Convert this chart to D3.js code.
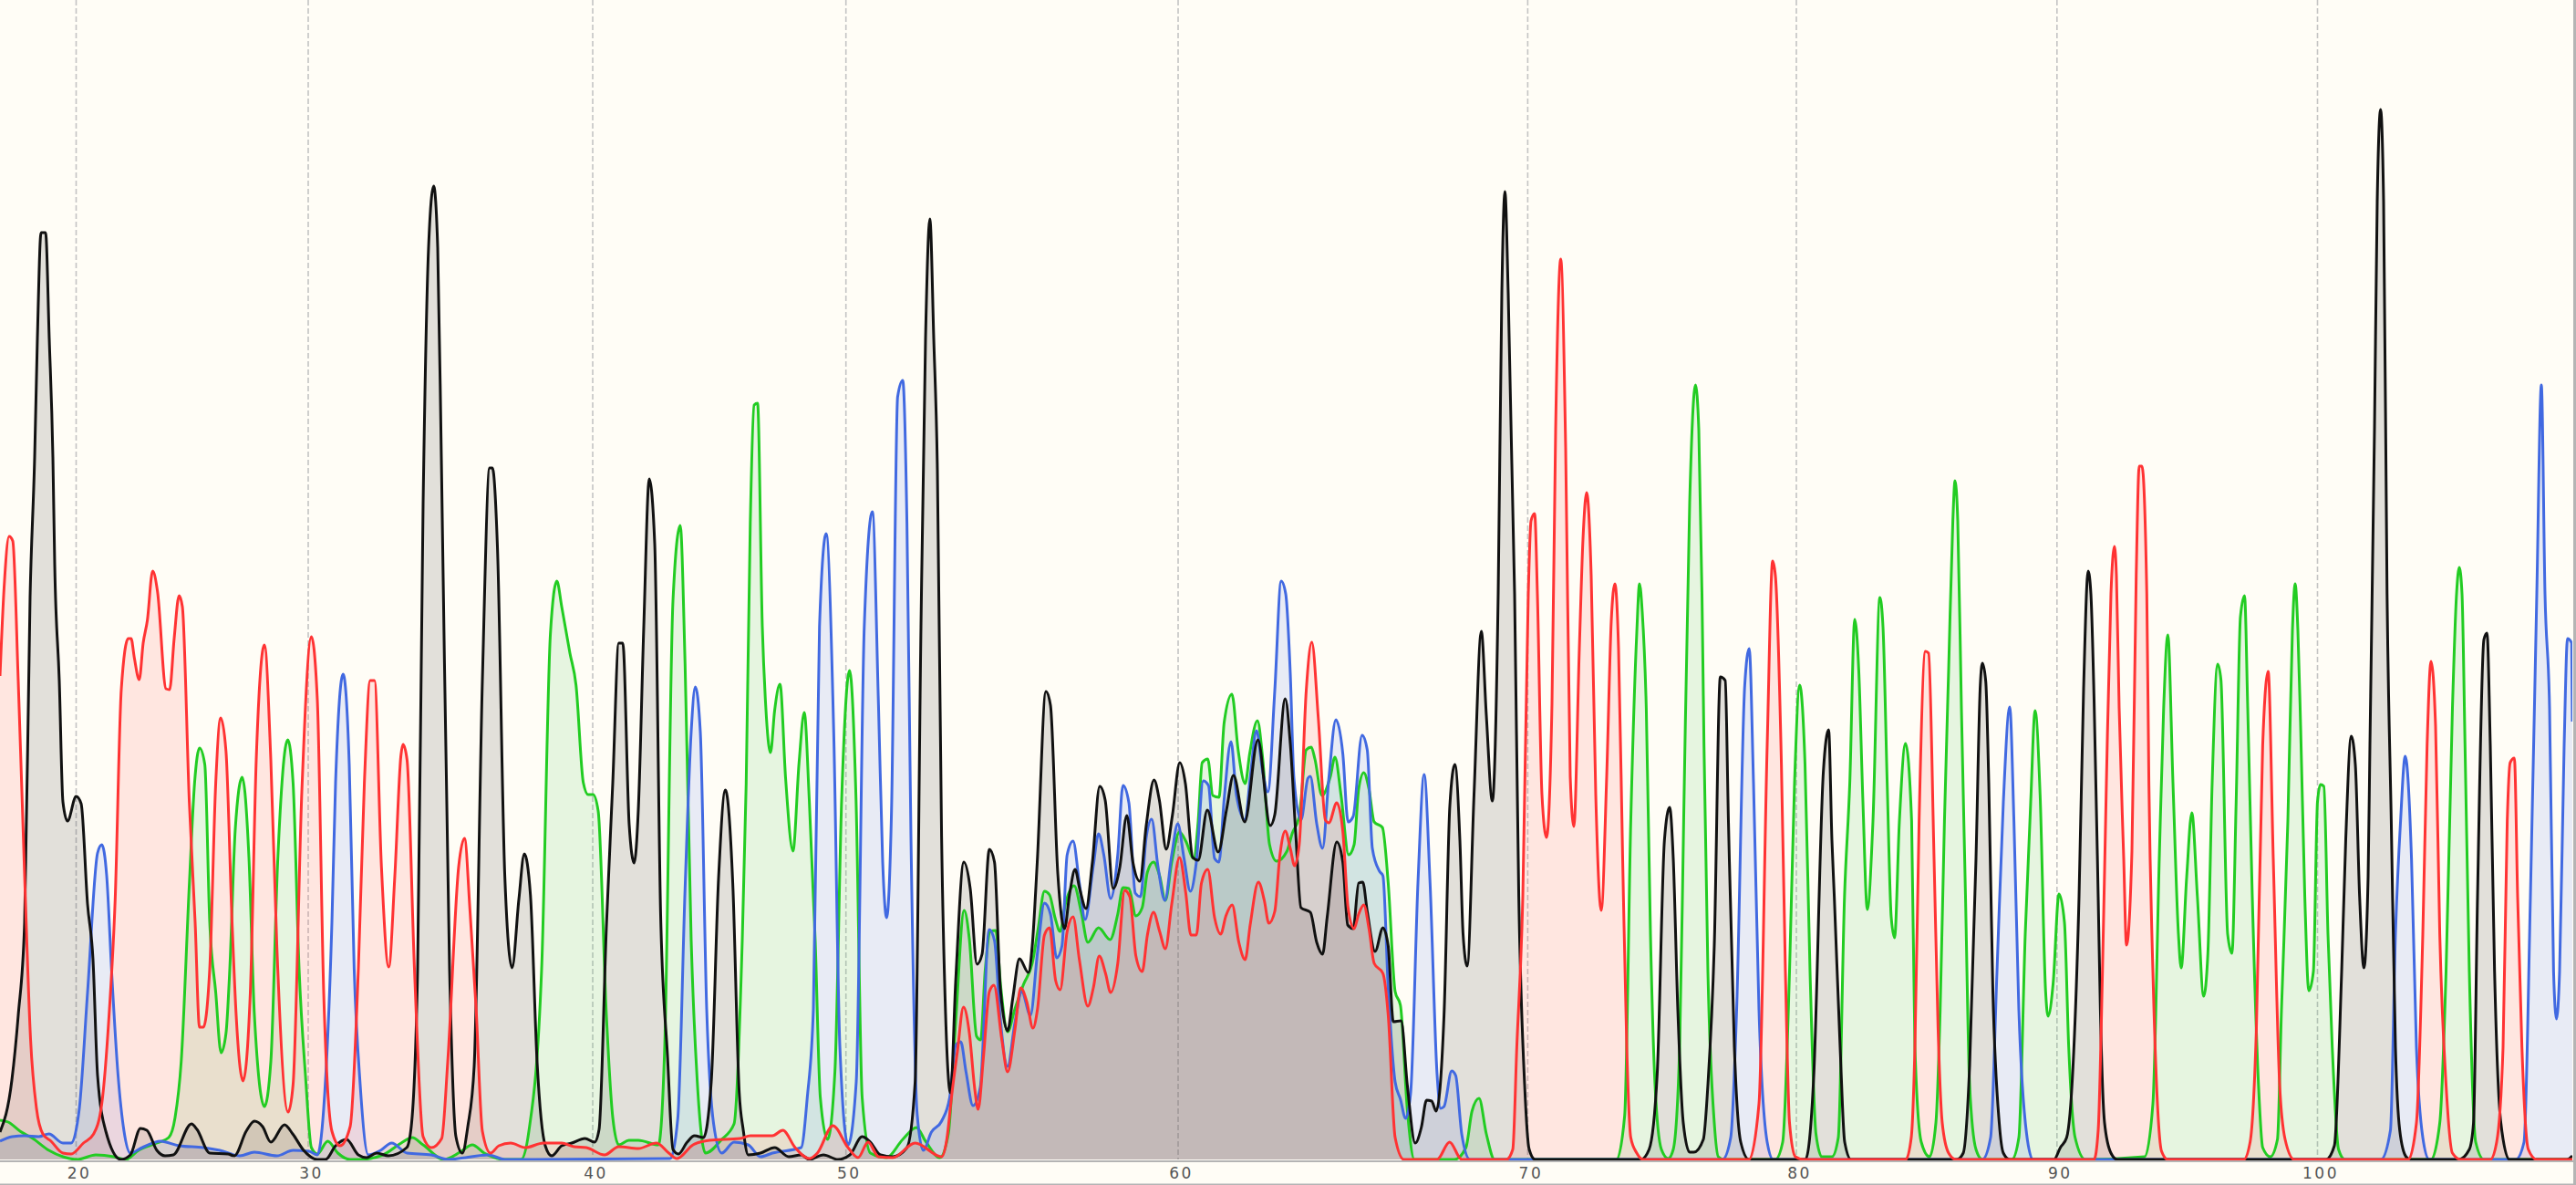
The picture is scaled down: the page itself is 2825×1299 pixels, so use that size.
<!DOCTYPE html>
<html>
<head>
<meta charset="utf-8">
<style>
html,body{margin:0;padding:0;background:#fffdf6;overflow:hidden}
svg{display:block}
</style>
<script src="https://cdn.jsdelivr.net/npm/d3@7/dist/d3.min.js"></script>
</head>
<body>
<svg id="chart" width="2825" height="1299"></svg>
<script>
// Base-call ruler: label and scan position of each tick
const tickLabels=[20,30,40,50,60,70,80,90,100];
const tickScans=[83.5,338,650,927.7,1292,1675.4,1970,2255.8,2541.5];

// Chromatogram traces as [scan, signal]
const traceBlack=[[0,30],[13,87],[20,158],[27,260],[33,617],[38,770],[41,900],[45,1016],[50,1016],[54,900],[58,770],[60,652],[65,525],[69,392],[74,371],[83.5,398],[89,390],[96,280],[102,219],[107,92],[116,31],[132.6,0],[143,5],[154,34],[161,32],[172,10],[181,4],[190,5],[210,39],[216,33],[230,7],[250,6],[257,4],[270,31],[279,42],[288,36],[297,19],[312,38],[321,28],[333,10],[348,0],[357,0],[368,15],[380,22],[393,5],[402,2],[413,7],[426,4],[446,13],[451,36],[458,209],[464,718],[470,1000],[475.6,1067],[480,1000],[484,770],[493,209],[500,25],[507,7],[513,36],[520,102],[529,525],[537,758],[540,758],[545.5,672],[553.6,311],[561.6,210],[569,285],[575,335],[581.7,290],[589,107],[598,15],[605,4],[616,15],[627,18],[641.5,23],[652,19],[657,33],[665,255],[672,413],[678.6,566],[683,566],[690,367],[695.5,325],[700,383],[706,584],[712,746],[718,675],[724.5,268],[732,114],[738,11],[744,6],[753.6,19],[761.6,26],[771.4,24],[780,85],[788,308],[795.5,405],[803.6,303],[810.7,73],[815,33],[820.5,5],[834,7],[849.5,13],[865,3],[878.6,5],[887.5,0],[903,5],[919,0],[932,5],[945.5,25],[954.5,19],[965.6,5],[979,3],[994.6,13],[1003.6,85],[1010,584],[1015,900],[1019.8,1031],[1024,900],[1028,756],[1032.6,354],[1037,159],[1042.4,73],[1048,194],[1057,326],[1064,297],[1071.4,214],[1077,225],[1085,340],[1090.6,326],[1097,188],[1105,141],[1110.7,177],[1118,220],[1127.7,205],[1132,234],[1137.5,326],[1147,513],[1152,498],[1160,314],[1167.4,253],[1173,291],[1179,318],[1184,297],[1191,275],[1198,326],[1206,409],[1212,394],[1220.8,297],[1228,320],[1235.7,377],[1242.4,326],[1250,305],[1257,366],[1265.6,416],[1271.4,394],[1279,340],[1285.7,377],[1293.8,435],[1300,412],[1308,331],[1314,328],[1324,383],[1336,337],[1345,383],[1352.7,421],[1365,370],[1379.5,460],[1393,366],[1398,378],[1409.5,505],[1415,456],[1421,357],[1426.7,276],[1437,271],[1444,238],[1450.4,225],[1455.4,265],[1466,348],[1472.6,326],[1478,257],[1484,253],[1490,303],[1494.5,304],[1499.4,272],[1508,228],[1516.6,254],[1522.4,234],[1528,151],[1536.5,152],[1543.4,81],[1552,18],[1558.7,35],[1564.5,65],[1570,64],[1575,53],[1583.6,158],[1590,388],[1595.5,433],[1601,350],[1604.5,247],[1609,212],[1616.5,400],[1624.5,579],[1630,487],[1636.6,393],[1643,620],[1647,950],[1650.4,1061],[1654,950],[1661,620],[1665.6,288],[1672,82],[1677,11],[1683.5,0],[1799.5,0],[1808.5,11],[1817.4,94],[1825.4,351],[1831,386],[1835,330],[1840,164],[1846,40],[1853,8],[1857.6,8],[1868,22],[1873,82],[1880,235],[1886.6,529],[1892,525],[1895.5,371],[1902,123],[1909,19],[1918,0],[1980,0],[1989,90],[1999.6,425],[2005.4,471],[2009,350],[2011.6,288],[2018,123],[2023,19],[2030,0],[2146,0],[2153,7],[2160,102],[2167,330],[2171.7,520],[2174,544],[2177.7,524],[2181,413],[2185.5,185],[2192.5,40],[2197,7],[2204,0],[2252.6,0],[2259.5,13],[2266.4,24],[2273.4,102],[2280,288],[2285,516],[2290,645],[2293,620],[2296.5,504],[2301,288],[2303.4,164],[2308,40],[2315,7],[2322,0],[2550.8,0],[2560,15],[2568,206],[2572.5,351],[2578.5,464],[2583,433],[2587.7,288],[2592.4,210],[2597,309],[2599,454],[2604,800],[2607,1050],[2610.7,1151],[2614,1050],[2617.8,620],[2622.4,371],[2627,123],[2631.7,32],[2638.6,3],[2643,0],[2696.4,0],[2708,11],[2712.6,40],[2717,288],[2724,570],[2727.4,577],[2731,454],[2735.7,206],[2742.6,40],[2752,0],[2815,0],[2821,4]];

const traceBlue=[[0,20],[13.4,25],[27,26],[42.4,25],[53.6,28],[69,18],[78,18],[87,56],[96,183],[107,336],[111.6,345],[117,311],[122.8,199],[129.5,92],[136,31],[143,7],[156,13],[176,20],[196.4,15],[223,13],[241,10],[263,4],[279,8],[303.6,4],[321.4,10],[339,9],[348,5],[355,56],[364,260],[368,413],[376.3,532],[383,433],[388.4,209],[395,82],[404,5],[417.4,10],[429.5,18],[446.4,7],[473,5],[491,0],[535.7,5],[553.6,0],[735,1],[743.3,45],[751.3,297],[758,469],[762.5,518],[768,469],[775,165],[782.6,39],[791.5,7],[805,19],[820.5,16],[834,3],[847,7],[878.6,13],[885.3,68],[892,165],[898.7,584],[906,686],[914.3,469],[921,125],[930,16],[939,85],[947.8,584],[956.7,710],[963.4,498],[968,326],[972.3,265],[977.7,383],[984.4,836],[990,854],[994.6,698],[999,354],[1005.8,50],[1012.5,10],[1021.4,30],[1032.6,42],[1041.5,68],[1048,125],[1053.6,129],[1059.4,96],[1067,59],[1075,79],[1084.8,252],[1090.6,240],[1097,154],[1105,102],[1113,150],[1120.5,184],[1130,158],[1137.8,227],[1145.4,281],[1152,269],[1158.8,221],[1164.6,234],[1170.3,334],[1176.8,349],[1183.7,303],[1190,263],[1199,322],[1204.7,357],[1210.5,334],[1218,286],[1225.8,334],[1231.5,410],[1238,391],[1245,292],[1250.7,288],[1257,353],[1263,373],[1269.8,322],[1277.5,284],[1285,334],[1291.6,368],[1298.5,330],[1305.4,294],[1312,326],[1319.6,415],[1325.3,410],[1332,330],[1336.8,326],[1342.5,395],[1350,458],[1356,399],[1365.5,372],[1371,418],[1378,470],[1384.6,426],[1390.4,403],[1398,514],[1405,634],[1410,620],[1415,533],[1419,418],[1426.7,372],[1434.4,418],[1437,420],[1444,368],[1450.4,341],[1457.3,418],[1465,482],[1472.6,445],[1478.4,370],[1484,376],[1493.7,465],[1499.4,449],[1505,341],[1512.8,316],[1516.6,311],[1522.4,188],[1530,85],[1535.8,66],[1541.5,45],[1547,73],[1555,303],[1561.8,422],[1568.3,303],[1576,93],[1579.8,56],[1583.6,58],[1592,97],[1596.4,92],[1603,28],[1612,0],[1889,0],[1898,24],[1904.5,164],[1913.4,520],[1918.3,560],[1923,413],[1929,164],[1938,19],[1944.6,0],[2174,0],[2183,24],[2190,206],[2197,392],[2204,496],[2208.6,371],[2214,164],[2222.5,28],[2229.5,0],[2611,0],[2621.5,32],[2627,247],[2632.6,371],[2637.7,442],[2644.6,330],[2650,123],[2657,24],[2664,0],[2759,0],[2768,19],[2775,288],[2782,620],[2787,849],[2791,620],[2796,495],[2800.4,206],[2803.6,154],[2807,206],[2812,454],[2815.7,571],[2820.3,566],[2821,480]];

const traceGreen=[[0,43],[9,41],[22,31],[36,23],[53.6,10],[69,3],[85,0],[105,5],[125,3],[138,0],[152,10],[172,18],[185,24],[192,46],[198.7,107],[207.6,301],[213.4,413],[218.8,451],[224.6,433],[230,260],[236.6,183],[242.4,117],[247.8,138],[252,209],[258,362],[265.6,419],[273,331],[279,158],[290,58],[297,107],[304.5,326],[315.6,460],[321.4,413],[328,209],[335,92],[341.5,13],[348,6],[359.4,20],[370.5,7],[384,0],[395,0],[420,5],[440,18],[452,24],[464,16],[486.6,0],[504.5,8],[518,16],[531,7],[553.6,0],[571.4,0],[580,31],[594,209],[603.6,576],[610.7,634],[616,606],[625,555],[631.7,520],[639.7,413],[645,400],[650.4,400],[656,382],[665,158],[672,46],[678.6,16],[689.7,21],[700,21],[722,16],[729,125],[738,612],[746,695],[751.3,543],[758,240],[764.7,85],[773.7,7],[791.5,22],[805,39],[814,240],[818.3,412],[822.8,698],[827,827],[830.8,829],[836,584],[839.7,498],[845,446],[849.5,492],[855.4,521],[861.6,417],[869.6,338],[876.3,435],[882,490],[887.5,394],[894,240],[899.6,68],[907.6,22],[915.6,96],[923,394],[931.7,536],[938.8,394],[945.5,68],[954.5,7],[972,2],[990,22],[1005,35],[1015,20],[1030.6,2],[1040,28],[1048,150],[1057.4,273],[1063,242],[1071,135],[1075.4,131],[1080.4,207],[1086,250],[1092,251],[1097.6,188],[1105,140],[1113,165],[1122.5,192],[1132,215],[1138.5,253],[1145.4,294],[1151,290],[1157,265],[1162.6,250],[1168.4,280],[1178,300],[1185.6,272],[1193,238],[1204.7,254],[1217.4,241],[1225.8,269],[1231.5,298],[1238,297],[1245.7,267],[1252.6,276],[1258.3,315],[1265,326],[1271.7,311],[1278,284],[1285,326],[1293.5,359],[1300.4,349],[1309,330],[1313.8,368],[1318.4,435],[1324.5,439],[1330,399],[1336.8,397],[1342.5,479],[1351,510],[1357.8,449],[1365.5,412],[1370.5,445],[1379,481],[1384.6,441],[1392.3,345],[1400,327],[1411.4,338],[1417,357],[1424.8,376],[1432.5,449],[1438,452],[1442,439],[1449.7,399],[1459,420],[1464,441],[1470.7,399],[1479,334],[1485,345],[1490,406],[1495.6,424],[1501.3,406],[1507,370],[1516,364],[1522.4,303],[1530,184],[1535.8,169],[1543.4,54],[1551,0],[1595,0],[1607.6,13],[1614.3,53],[1622,67],[1630,28],[1639,0],[1772.8,0],[1781.7,48],[1788.4,371],[1795,578],[1798,631],[1801,600],[1805.4,495],[1810,247],[1815,82],[1822,11],[1829.5,1],[1835,11],[1842,123],[1846.4,371],[1853,720],[1859.4,849],[1863,800],[1866.5,620],[1868.7,454],[1873,206],[1880,40],[1884.4,3],[1891,0],[1947,0],[1955,19],[1962.5,206],[1968,413],[1973.6,520],[1979.5,433],[1985,206],[1991.5,28],[1998,3],[2009,3],[2016,24],[2022.8,288],[2028.6,413],[2034,592],[2038.4,537],[2043,392],[2047.8,274],[2054,371],[2061.6,616],[2065,584],[2069.6,413],[2074,266],[2077.7,243],[2083,371],[2089.7,456],[2096.4,371],[2100,123],[2107,19],[2116,3],[2123,40],[2127.7,164],[2132.4,371],[2137,537],[2141.6,700],[2144,744],[2147,700],[2151,495],[2155.5,288],[2160,82],[2167,11],[2174,0],[2206.3,0],[2214,24],[2221,247],[2227,392],[2231.8,492],[2237.3,400],[2243.3,185],[2246,157],[2251.6,193],[2258,291],[2264,260],[2268.7,123],[2275.7,24],[2287,0],[2352,3],[2361,61],[2368,330],[2372.8,495],[2377.4,575],[2383,413],[2389,247],[2392,210],[2398,309],[2403.7,380],[2409.8,288],[2416.7,179],[2421.3,226],[2426,413],[2432,543],[2435.6,526],[2443,247],[2447.7,226],[2452.3,392],[2457,595],[2461.5,618],[2465,495],[2470,288],[2476.8,82],[2481.4,13],[2489.7,3],[2497.6,22],[2502,164],[2509,371],[2514,580],[2517,631],[2520,580],[2523,475],[2527.6,288],[2532,185],[2537,206],[2541.5,392],[2544.8,411],[2548.5,409],[2553,247],[2557.7,123],[2564.6,11],[2571.6,0],[2666,0],[2675.6,40],[2682.5,206],[2689.5,495],[2694,620],[2697,649],[2700,620],[2703.3,454],[2708,206],[2715,19],[2724,0],[2821,0]];

const traceRed=[[0,530],[4.5,627],[10,683],[14,678],[20,525],[27,311],[33.5,132],[40,56],[47,28],[56,20],[69,7],[78,6],[91.5,18],[102.7,28],[111.6,61],[119.6,158],[126.3,285],[133,515],[140.6,571],[143.8,571],[147.3,550],[152.7,526],[157,566],[161.6,591],[167.4,645],[172.8,622],[182,516],[186,515],[191,571],[196.4,618],[200,606],[207.6,392],[214,260],[218.8,145],[223,145],[230,209],[236.6,413],[242,484],[247.8,448],[254.5,260],[259,158],[266.5,86],[274.5,183],[281,438],[290,564],[297,438],[303.6,234],[316,52],[321.4,82],[331,403],[341.5,573],[348,504],[355,183],[364,31],[372.8,15],[384,36],[393,209],[399.6,413],[406,525],[410.7,525],[418.3,321],[426.3,211],[433,311],[439.7,443],[442,455],[446.4,438],[454.5,209],[464,25],[473,13],[484.4,23],[491,107],[503,321],[509.4,352],[515.6,270],[522,168],[529,31],[538,7],[547,15],[560,18],[576,13],[596,18],[616,18],[629.5,14],[643,13],[663,5],[678.6,14],[700,12],[720,18],[733.5,7],[742.4,1],[760,16],[778,21],[811.6,23],[822.8,26],[847,26],[858.5,32],[872,13],[887.5,1],[896.4,7],[913.4,37],[930,13],[941,2],[952,19],[963.4,3],[979,2],[1003.6,18],[1032.6,3],[1038,20],[1044,73],[1050,119],[1056.6,167],[1063,139],[1069,77],[1072.7,55],[1078.5,112],[1085,184],[1090,191],[1098.7,131],[1105,96],[1113,142],[1119.4,188],[1126,173],[1132.8,144],[1137.8,165],[1145.4,246],[1151,254],[1157.7,196],[1162.6,186],[1170.3,250],[1176.8,266],[1183.7,219],[1193,168],[1199,188],[1205.5,223],[1212.4,204],[1218,183],[1225.8,215],[1233.4,295],[1239,288],[1245.7,223],[1252.6,206],[1258.3,246],[1265,271],[1271.7,250],[1278,231],[1285,280],[1293.5,331],[1300.4,292],[1306,246],[1312,246],[1317.6,303],[1324.5,318],[1332,265],[1338.7,247],[1344.4,267],[1351.3,279],[1358.6,238],[1365.5,219],[1371,257],[1380,304],[1386.5,284],[1391.5,259],[1398,272],[1403.7,334],[1409.5,360],[1415,341],[1419.8,322],[1424.8,345],[1432.5,514],[1438.6,567],[1445.8,483],[1453.5,372],[1457.3,369],[1466,391],[1472.6,360],[1478.4,276],[1485,253],[1490,269],[1495.6,279],[1501.3,253],[1507,215],[1516.6,204],[1522.4,158],[1530,24],[1539.6,0],[1576,0],[1589.7,19],[1603,0],[1652,0],[1659,11],[1663.4,123],[1670,288],[1676,620],[1679,700],[1683,708],[1686,620],[1691,400],[1696,353],[1702,500],[1706,800],[1711.6,987],[1717,780],[1722,420],[1726,365],[1732,560],[1736,680],[1740,731],[1745,640],[1750,400],[1756,273],[1762,420],[1767,590],[1771,631],[1775,560],[1779.5,330],[1784,123],[1788.4,24],[1795,7],[1802,0],[1918,0],[1929,61],[1938,454],[1944,656],[1947,640],[1953.6,433],[1958,206],[1962.5,40],[1969,3],[1978,0],[2090,0],[2096,24],[2100,123],[2104.6,371],[2111.6,557],[2115,555],[2121,330],[2125.4,144],[2130,40],[2137,7],[2145,0],[2296.5,0],[2301,32],[2305.7,206],[2310,413],[2315,620],[2318.8,672],[2321,640],[2324,495],[2329,330],[2332,235],[2338,338],[2342.7,640],[2346,760],[2349,760],[2354.3,620],[2356.6,413],[2361,206],[2366,61],[2370.5,9],[2377.4,0],[2460.6,0],[2467.6,19],[2474.5,144],[2481.4,454],[2487.4,535],[2493,330],[2500,82],[2506,22],[2516,0],[2641,0],[2650,40],[2657,247],[2661.7,454],[2666,546],[2671,475],[2675.6,247],[2682.5,82],[2689.5,7],[2698.7,0],[2731,0],[2738,19],[2745,123],[2749.6,371],[2752.8,435],[2757.4,440],[2761,288],[2765.7,123],[2772.7,11],[2782,0],[2821,0]];

// Draw order: last is on top
const channels=[
  {name:"G",trace:traceGreen,color:"#22cc22",fill:"#3fc04d"},
  {name:"C",trace:traceBlue,color:"#4169e1",fill:"#4d73ee"},
  {name:"T",trace:traceBlack,color:"#111111",fill:"#1f1f1f"},
  {name:"A",trace:traceRed,color:"#ff3333",fill:"#ff4c4d"}
];

const W=2825,H=1299;
const plotRight=2821,baseY=1271;
const x=d3.scaleLinear().domain([0,2821]).range([0,plotRight]);
const y=d3.scaleLinear().domain([0,1271]).range([baseY,0]);

const svg=d3.select("#chart");
svg.append("rect").attr("width",W).attr("height",H).attr("fill","#fffdf6");

svg.append("defs").append("clipPath").attr("id","plot")
  .append("rect").attr("width",plotRight).attr("height",baseY+1);

const grid=svg.append("g");
grid.selectAll("line").data(tickScans).join("line")
  .attr("x1",d=>x(d)).attr("x2",d=>x(d))
  .attr("y1",0).attr("y2",baseY)
  .attr("stroke","#c4c4c4").attr("stroke-width",1.6).attr("stroke-dasharray","6,3");

const plot=svg.append("g").attr("clip-path","url(#plot)");
const area=d3.area().x(d=>x(d[0])).y0(y(0)).y1(d=>y(d[1])).curve(d3.curveMonotoneX);
const line=d3.line().x(d=>x(d[0])).y(d=>y(d[1])).curve(d3.curveMonotoneX);

plot.selectAll("path.fill").data(channels).join("path")
  .attr("class","fill").attr("d",c=>area(c.trace))
  .attr("fill",c=>c.fill).attr("fill-opacity",0.13);
plot.selectAll("path.trace").data(channels).join("path")
  .attr("class","trace").attr("d",c=>line(c.trace))
  .attr("fill","none").attr("stroke",c=>c.color)
  .attr("stroke-width",3).attr("stroke-linejoin","round");

// Ruler strip, frame
svg.append("rect").attr("x",0).attr("y",1272).attr("width",W).attr("height",2).attr("fill","#b4b4b4");
svg.append("rect").attr("x",0).attr("y",1297.5).attr("width",W).attr("height",1.5).attr("fill","#b4b4b4");
svg.append("rect").attr("x",2822).attr("y",0).attr("width",3).attr("height",H).attr("fill","#b4b4b4");

const xAxis=d3.axisBottom(x).tickValues(tickScans).tickSize(0)
  .tickFormat((d,i)=>tickLabels[i]);
const ax=svg.append("g").attr("transform","translate(0,1274)").call(xAxis);
ax.select(".domain").remove();
ax.selectAll("text")
  .attr("y",6).attr("dy","0.71em").attr("dx",3)
  .attr("fill","#555").attr("font-family","'DejaVu Sans',sans-serif")
  .attr("font-size",17).style("letter-spacing","2.5px");
</script>
</body>
</html>
